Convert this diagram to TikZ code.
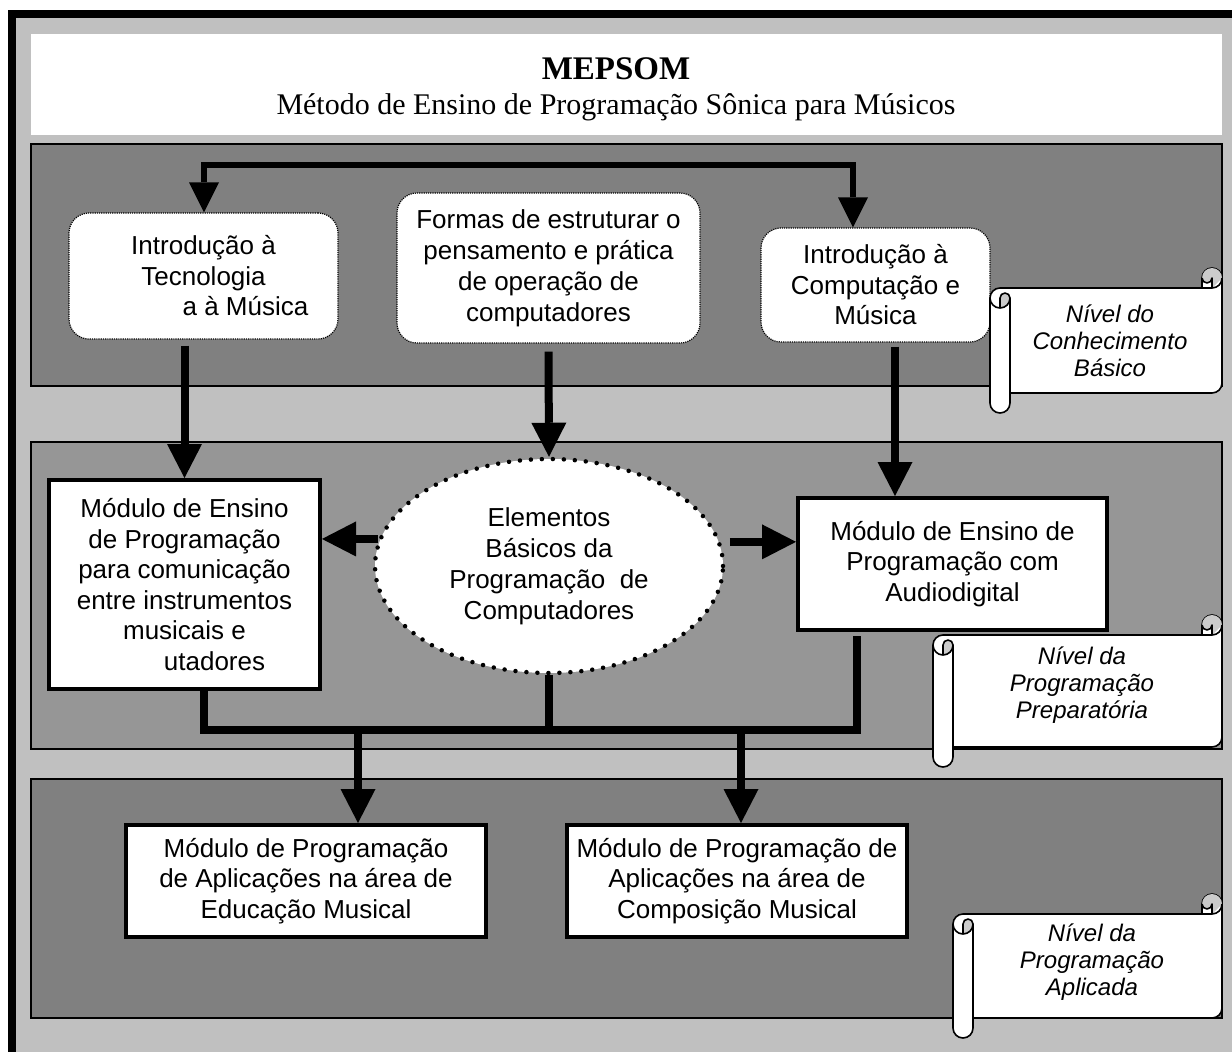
\documentclass[tikz,border=0pt]{standalone}
\usepackage{fontspec}
\setmainfont{Liberation Serif}
\newfontfamily\arial{Liberation Sans}
\usetikzlibrary{arrows.meta,shapes.geometric,calc}

\definecolor{bgGray}{HTML}{C0C0C0}
\definecolor{panelDark}{HTML}{808080}
\definecolor{panelMid}{HTML}{969696}
\definecolor{curlGray}{HTML}{CBCBCB}

% horizontal scroll banner: #1=left #2=top #3=right #4=bottom (y grows downwards)
\newcommand\drawscroll[4]{%
  \draw[scrollline, fill=white]
    (#1,#2+30) arc[start angle=180,end angle=270,radius=10]
    -- (#3-20,#2+20) -- (#3-20,#2+10) arc[start angle=180,end angle=360,radius=10]
    -- (#3,#4-30) arc[start angle=0,end angle=90,radius=10]
    -- (#1+20,#4-20) -- (#1+20,#4-10) arc[start angle=0,end angle=180,radius=10]
    -- cycle;
  \fill[curlGray] (#3-10,#2+20) -- (#3-10,#2+10) arc[start angle=0,end angle=180,radius=5]
    arc[start angle=180,end angle=360,radius=10] -- cycle;
  \fill[curlGray] (#1+10,#2+40) -- (#1+10,#2+30) arc[start angle=180,end angle=360,radius=5]
    arc[start angle=0,end angle=90,radius=10] -- cycle;
  \draw[scrollline] (#3-20,#2+20) -- (#3-10,#2+20) arc[start angle=90,end angle=0,radius=10];
  \draw[scrollline] (#3-10,#2+20) -- (#3-10,#2+10) arc[start angle=0,end angle=180,radius=5];
  \draw[scrollline] (#1+10,#2+40) -- (#1+10,#2+30) arc[start angle=180,end angle=360,radius=5]
    arc[start angle=0,end angle=180,radius=10];
  \draw[scrollline] (#1+20,#2+30) -- (#1+20,#4-20);
}

\begin{document}
\begin{tikzpicture}[x=1pt,y=-1pt,
  panel/.style={draw=black,line width=1.5pt},
  softbox/.style={draw=black, fill=white, rounded corners=20pt, densely dotted,
    line width=1.2pt, inner sep=0pt, align=center,
    font=\arial\fontsize{26}{30.5}\selectfont},
  modbox/.style={draw=black, fill=white, line width=4pt, inner sep=0pt, align=center,
    font=\arial\fontsize{26}{30.5}\selectfont},
  dotellipse/.style={ellipse, draw=black, fill=white, line width=4.5pt,
    dash pattern=on 0pt off 11pt, line cap=round, inner sep=0pt, align=center,
    font=\arial\fontsize{26}{31}\selectfont},
  scrollline/.style={draw=black, line width=1.6pt, line join=round},
  scrolltext/.style={align=center, inner sep=0pt,
    font=\arial\itshape\fontsize{24}{27}\selectfont},
  thickline/.style={line width=8pt},
  arr/.style={line width=8pt, -{Triangle[width=35pt,length=34pt,line width=0pt]}},
  toparr/.style={line width=6.5pt,
    {Triangle[width=30pt,length=30pt,line width=0pt]}-{Triangle[width=30pt,length=30pt,line width=0pt]}}
]
\useasboundingbox (0,0) rectangle (1232,1052);

% frame and background
\fill[white] (0,0) rectangle (1232,1052);
\fill[bgGray] (8,10) rectangle (1232,1052);
\fill[black] (8,10) rectangle (1232,18);
\fill[black] (8,10) rectangle (16,1052);

% title band
\fill[white] (31,34) rectangle (1222,135);
\node[font=\bfseries\fontsize{33}{38}\selectfont, inner sep=0pt] (title) at (616,69) {MEPSOM};
\node[font=\fontsize{30}{34}\selectfont, inner sep=0pt] (subtitle) at (616,107)
  {Método de Ensino de Programação Sônica para Músicos};

% level panels
\draw[panel, fill=panelDark] (31,144) rectangle (1222,386);
\draw[panel, fill=panelMid] (31,442) rectangle (1222,749);
\draw[panel, fill=panelDark] (31,779) rectangle (1222,1018);

% basic knowledge level
\node[softbox, minimum width=269pt, minimum height=126pt] (intA) at (203.5,276)
  {Introdução à\\Tecnologia\\\hspace*{84pt}a à Música};
\node[softbox, minimum width=303pt, minimum height=150pt,
  font=\arial\fontsize{26}{31}\selectfont] (forms) at (548.5,268)
  {Formas de estruturar o\\pensamento e prática\\de operação de\\computadores};
\node[softbox, minimum width=229pt, minimum height=114pt] (intC) at (875.5,285)
  {Introdução à\\Computação e\\Música};

% preparatory programming level
\node[modbox, minimum width=271pt, minimum height=209pt] (modD) at (184.5,584.5)
  {Módulo de Ensino\\de Programação\\para comunicação\\entre instrumentos\\musicais e\\\hspace*{60pt}utadores};
\node[dotellipse, minimum width=348pt, minimum height=214pt] (elem) at (549,566)
  {Elementos\\Básicos da\\Programação\ \ de\\Computadores};
\node[modbox, minimum width=309pt, minimum height=132pt] (modE) at (952.5,564)
  {Módulo de Ensino de\\Programação com\\Audiodigital};

% applied programming level
\node[modbox, minimum width=360pt, minimum height=112pt] (modF) at (306,881)
  {Módulo de Programação\\de Aplicações na área de\\Educação Musical};
\node[modbox, minimum width=340pt, minimum height=112pt] (modG) at (737,881)
  {Módulo de Programação de\\Aplicações na área de\\Composição Musical};

% connectors
\coordinate (tl) at (204,165);
\coordinate (tr) at (853,165);
\draw[toparr] (tl |- intA.north) -- (tl) -- (tr) -- (tr |- intC.north);

\coordinate (cx) at (895,0);
\draw[arr] ($(modD.north |- intA.south)+(0,6)$) -- (modD.north);
\draw[arr] ($(forms.south)+(0,8)$) -- (elem.north);
\draw[arr] ($(intC.south -| cx)+(0,4)$) -- (cx |- modE.north);

\draw[arr] (elem.171.6) -- (elem.171.6 -| modD.east);
\draw[arr] ($(elem.8.4)+(9,0)$) -- (elem.8.4 -| modE.west);

\coordinate (jl) at (204,730);
\coordinate (jr) at (857,730);
\draw[thickline] (modD.south -| jl) -- (jl) -- (jr) -- ($(modE.south -| jr)+(0,4)$);
\draw[thickline] (elem.south) -- (elem.south |- jl);
\coordinate (fa) at (358,730);
\coordinate (ga) at (741,730);
\draw[arr] (fa) -- (fa |- modF.north);
\draw[arr] (ga) -- (ga |- modG.north);

% level banners
\drawscroll{990}{268}{1222}{413}
\node[scrolltext] (lvl1) at (1110,341) {Nível do\\Conhecimento\\Básico};
\drawscroll{933}{615}{1222}{767}
\node[scrolltext] (lvl2) at (1082,685) {Nível da\\Programação\\Preparatória};
\drawscroll{953}{894}{1222}{1038}
\node[scrolltext] (lvl3) at (1092,962) {Nível da\\Programação\\Aplicada};
\end{tikzpicture}
\end{document}
